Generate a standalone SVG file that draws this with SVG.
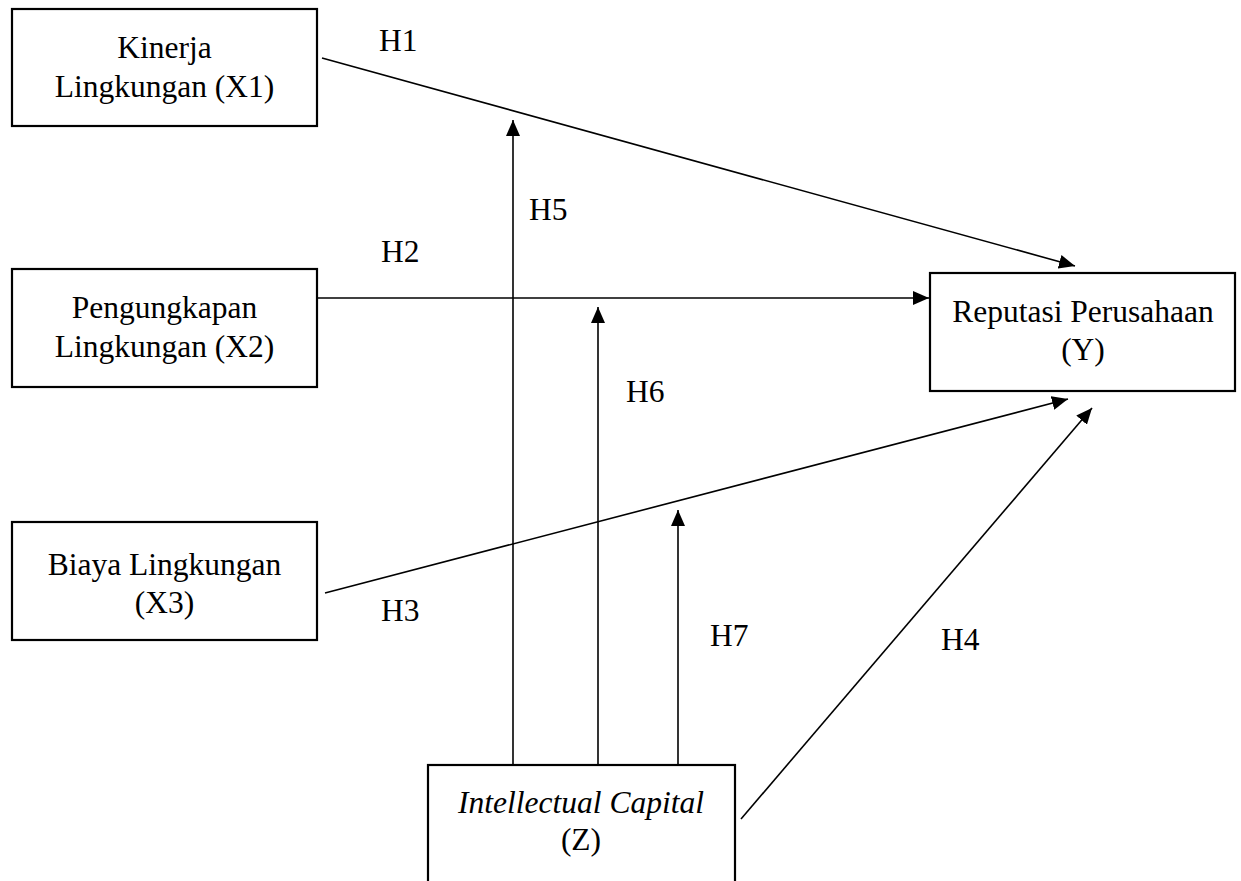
<svg xmlns="http://www.w3.org/2000/svg" width="1241" height="881" viewBox="0 0 1241 881">
<style>
.box{fill:#fff;stroke:#000;stroke-width:2.2}
.t{font-family:"Liberation Serif","Times New Roman",serif;font-size:31.5px;fill:#000;text-anchor:middle}
.h{font-family:"Liberation Serif","Times New Roman",serif;font-size:31.5px;fill:#000}
.c{stroke:#000;stroke-width:1.6;fill:none;marker-end:url(#ah)}
</style>
<defs>
<marker id="ah" markerUnits="userSpaceOnUse" markerWidth="16" markerHeight="14" refX="16" refY="7" orient="auto" viewBox="0 0 16 14">
<path d="M0,0 L16,7 L0,14 z" fill="#000"/>
</marker>
</defs>
<rect width="1241" height="881" fill="#fff"/>
<g id="connectors">
<line class="c" x1="322" y1="58" x2="1075" y2="266"/>
<line class="c" x1="317" y1="298" x2="929" y2="298"/>
<line class="c" x1="325" y1="593" x2="1068" y2="399"/>
<line class="c" x1="741" y1="819" x2="1092" y2="408"/>
<line class="c" x1="513" y1="765" x2="513" y2="120"/>
<line class="c" x1="598" y1="765" x2="598" y2="307"/>
<line class="c" x1="678" y1="765" x2="678" y2="510"/>
</g>
<g id="labels">
<text class="h" x="379" y="51">H1</text>
<text class="h" x="381" y="262">H2</text>
<text class="h" x="381" y="621">H3</text>
<text class="h" x="941" y="650">H4</text>
<text class="h" x="529" y="220">H5</text>
<text class="h" x="626" y="402">H6</text>
<text class="h" x="710" y="646">H7</text>
</g>
<g id="x1">
<rect class="box" x="12" y="9" width="305" height="117"/>
<text class="t" x="164.5" y="58">Kinerja</text>
<text class="t" x="164.5" y="97">Lingkungan (X1)</text>
</g>
<g id="x2">
<rect class="box" x="12" y="269" width="305" height="118"/>
<text class="t" x="164.5" y="318">Pengungkapan</text>
<text class="t" x="164.5" y="357">Lingkungan (X2)</text>
</g>
<g id="x3">
<rect class="box" x="12" y="522" width="305" height="118"/>
<text class="t" x="164.5" y="575">Biaya Lingkungan</text>
<text class="t" x="164.5" y="613">(X3)</text>
</g>
<g id="y">
<rect class="box" x="930" y="273" width="305" height="118"/>
<text class="t" x="1083" y="322">Reputasi Perusahaan</text>
<text class="t" x="1083" y="360">(Y)</text>
</g>
<g id="z">
<rect class="box" x="428" y="765" width="307" height="140"/>
<text class="t" x="581" y="813" font-style="italic">Intellectual Capital</text>
<text class="t" x="581" y="850">(Z)</text>
</g>
</svg>
